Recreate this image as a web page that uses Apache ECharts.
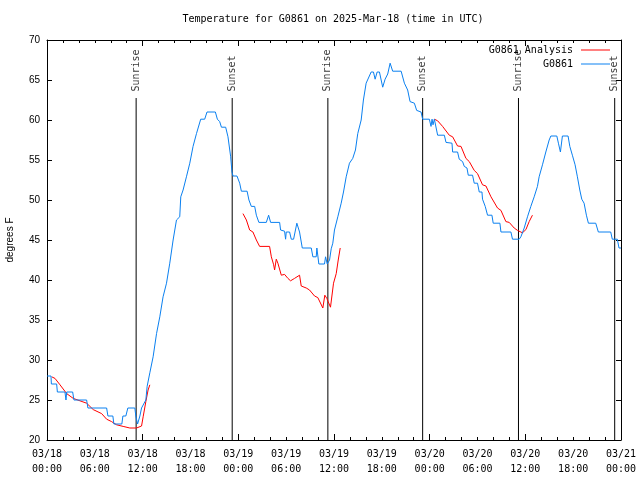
<!DOCTYPE html>
<html>
<head>
<meta charset="utf-8">
<script src="https://cdn.jsdelivr.net/npm/echarts@6/dist/echarts.min.js"></script>
<style>html,body{margin:0;padding:0;background:#fff}#c{width:640px;height:480px}</style>
</head>
<body>
<div id="c"></div>
<script>
// hours since 2025-03-18 00:00 UTC, temperature in F
const g0861 = [
[0,28],[0.5,28],[0.55,27],[1.21,27],[1.3,26],[2.25,26],[2.38,25],[2.47,26],[3.22,26],[3.38,25],[4.97,25],[5.13,24],[7.48,24],[7.64,23],[8.26,23],[8.39,22],[9.39,22],[9.52,23],[9.89,23],[10.14,24],[11.02,24],[11.14,23],[11.36,22],[11.65,23],[11.86,24],[12.4,25],[12.56,26.7],[12.9,28.4],[13.31,30.4],[13.74,33.3],[14.15,35.4],[14.56,37.9],[14.99,39.6],[15.4,42.1],[15.82,45],[16.24,47.5],[16.65,47.9],[16.78,50.4],[17.07,51.25],[17.49,52.9],[17.91,54.6],[18.32,56.7],[18.75,58.3],[19.28,60.1],[19.78,60.1],[20.07,61],[21.12,61],[21.37,60.1],[21.66,59.8],[21.88,59.1],[22.41,59.1],[22.7,57.9],[23.04,55.4],[23.2,53.5],[23.33,53],[23.83,53],[24.17,52.1],[24.38,51.1],[25.1,51.1],[25.33,50],[25.63,49.2],[26.05,49.2],[26.26,48.1],[26.58,47.2],[27.51,47.2],[27.8,48.1],[28.05,47.2],[29.18,47.2],[29.3,46.25],[29.8,46.1],[29.93,45.1],[30.01,46],[30.43,46],[30.64,45.1],[30.93,45.1],[31.34,47.1],[31.68,46],[32.02,44],[33.15,44],[33.35,42.9],[33.77,42.9],[33.85,44],[34.1,42],[34.81,42],[34.94,42.9],[35.15,42],[35.44,42.5],[35.65,43.9],[35.85,44.6],[36.06,46.25],[36.48,47.9],[36.9,49.6],[37.19,51],[37.53,52.9],[37.94,54.6],[38.35,55.2],[38.69,56.25],[38.98,58.3],[39.41,60],[39.69,62.5],[40.03,64.6],[40.66,66],[40.95,66],[41.16,65.1],[41.41,66],[41.7,66],[42.11,64.1],[42.41,65.1],[42.74,65.75],[43.04,67.1],[43.36,66.1],[44.42,66.1],[44.83,64.6],[45.24,63.75],[45.54,62.3],[46.08,62.1],[46.37,61.2],[46.92,61],[47.12,60.1],[47.96,60.1],[48.17,59.2],[48.3,60.1],[48.42,59.4],[48.59,60.1],[49.0,58.1],[49.84,58.1],[50.05,57.2],[50.8,57.1],[50.88,56],[51.5,56],[51.71,55.1],[52.13,54.8],[52.34,54.2],[52.68,54],[52.84,53.1],[53.38,53.1],[53.59,52.1],[54.0,52.1],[54.22,51],[54.56,51],[54.63,50.1],[54.97,49.2],[55.26,48.1],[55.81,48.1],[55.97,47.1],[56.81,47.1],[56.94,46],[58.19,46],[58.39,45.1],[59.23,45.1],[59.44,45.4],[59.86,46.5],[60.27,47.9],[60.69,49.2],[61.11,50.4],[61.52,51.7],[61.73,52.9],[62.15,54.4],[62.57,56],[62.99,57.5],[63.2,58],[63.95,58],[64.15,57.1],[64.4,56],[64.65,58],[65.36,58],[65.58,56.7],[65.9,55.6],[66.24,54.4],[66.53,52.9],[66.83,51.25],[67.08,50.1],[67.37,49.6],[67.66,48.1],[67.91,47.1],[68.83,47.1],[69.16,46],[70.71,46],[70.91,45.1],[71.54,45.1],[71.75,44],[72,44]
];
const analysisSeg1 = [[0.59,27.9],[1.0,27.7],[1.63,26.9],[2.47,25.8],[3.29,25.2],[4.13,24.9],[4.97,24.6],[5.8,23.8],[6.85,23.3],[7.48,22.6],[8.1,22.3],[8.73,21.9],[9.55,21.7],[10.39,21.5],[11.23,21.5],[11.86,21.75],[12.06,22.9],[12.4,24.8],[12.68,26.25],[12.9,26.9]];
const analysisSeg2 = [[24.58,48.3],[25.01,47.5],[25.42,46.25],[25.83,46],[26.26,45],[26.67,44.2],[27.92,44.2],[28.14,42.9],[28.43,41.9],[28.55,41.25],[28.76,42.6],[28.96,42.1],[29.39,40.6],[29.8,40.7],[30.22,40.2],[30.55,39.9],[31.05,40.2],[31.68,40.6],[31.89,39.25],[32.52,39],[32.93,38.75],[33.56,38],[33.97,37.8],[34.6,36.5],[34.85,38.1],[35.1,37.7],[35.27,37.3],[35.44,37.1],[35.56,36.6],[35.78,36.6],[35.94,39.6],[36.28,40.8],[36.53,42.5],[36.78,44]];
const analysisSeg3 = [[48.59,60.1],[49.0,59.9],[49.62,59.2],[50.46,58.1],[50.88,57.9],[51.5,56.75],[51.93,56.7],[52.55,55.2],[52.97,54.8],[53.59,53.7],[54.0,53.3],[54.63,51.9],[55.06,51.75],[55.69,50.4],[56.51,49],[56.94,48.7],[57.56,47.3],[57.98,47.2],[58.6,46.5],[59.02,46.2],[59.64,45.9],[60.07,46.3],[60.48,47.3],[60.89,48.1]];
const sunHours = [11.18, 23.23, 35.23, 47.12, 59.14, 71.21];
const sunNames = ['Sunrise', 'Sunset', 'Sunrise', 'Sunset', 'Sunrise', 'Sunset'];
const sunLineTop = 62.75;
const yMin = 20, yMax = 70, yStep = 5;
const xMin = 0, xMax = 72;

const mono = 'DejaVu Sans Mono';
const analysis = analysisSeg1.concat([[18, '-']], analysisSeg2, [[42, '-']], analysisSeg3);

function fmtX(v) {
  const day = 18 + Math.floor(v / 24);
  const h = v % 24;
  return '03/' + day + '\n' + (h < 10 ? '0' : '') + h + ':00';
}

const sunSeries = sunHours.map((h, i) => ({
  type: 'line', name: 'sun' + i, xAxisIndex: 0, yAxisIndex: 0,
  data: [[h, yMin], [h, sunLineTop]],
  symbol: 'none', showSymbol: false,
  lineStyle: {color: '#000', width: 1}, silent: true, animation: false, z: 1
}));
const sunLabels = {
  type: 'scatter', name: 'sunlabels', xAxisIndex: 0, yAxisIndex: 0,
  data: sunHours.map((h, i) => ({value: [h, sunLineTop], name: sunNames[i]})),
  symbol: 'rect', symbolSize: 1, itemStyle: {color: 'rgba(0,0,0,0)'}, silent: true,
  label: {show: true, formatter: p => p.name, rotate: 90, position: 'top', distance: 6, align: 'left', verticalAlign: 'middle',
    fontFamily: mono, fontSize: 10, color: '#000'},
  labelLayout: {hideOverlap: false}, z: 2
};

const chart = echarts.init(document.getElementById('c'), null, {renderer: 'canvas'});
chart.setOption({
  animation: false,
  backgroundColor: '#fff',
  title: {text: 'Temperature for G0861 on 2025-Mar-18 (time in UTC)', left: 333, textAlign: 'center', top: 14, padding: 0,
    textStyle: {fontFamily: mono, fontSize: 10, fontWeight: 'normal', color: '#000'}},
  grid: {left: 47, right: 19, top: 40, bottom: 40, containLabel: false, outerBoundsMode: 'none'},
  legend: [
    {data: ['G0861 Analysis'], right: 30, top: 45, orient: 'vertical', align: 'right', padding: 0, itemWidth: 29, itemHeight: 1, icon: 'rect',
      textStyle: {fontFamily: mono, fontSize: 10, color: '#000', padding: [0, 3, 0, 0]}},
    {data: ['G0861'], right: 30, top: 59, orient: 'vertical', align: 'right', padding: 0, itemWidth: 29, itemHeight: 1, icon: 'rect',
      textStyle: {fontFamily: mono, fontSize: 10, color: '#000', padding: [0, 3, 0, 0]}}
  ],
  xAxis: [
    {type: 'value', position: 'bottom', min: xMin, max: xMax, interval: 6, splitLine: {show: false},
      axisLine: {show: true, onZero: false, lineStyle: {color: '#000', width: 1}}, axisTick: {show: false},
      axisLabel: {formatter: fmtX, fontFamily: mono, fontSize: 10, color: '#000', lineHeight: 15, margin: 7, showMinLabel: true, showMaxLabel: true, hideOverlap: false}},
    {type: 'value', position: 'bottom', min: xMin, max: xMax, interval: 12, splitLine: {show: false},
      axisLine: {show: false, onZero: false}, axisLabel: {show: false},
      axisTick: {show: true, inside: true, length: 6, lineStyle: {color: '#000'}},
      minorTick: {show: true, splitNumber: 6, length: 3, lineStyle: {color: '#000'}}},
    {type: 'value', position: 'top', min: xMin, max: xMax, interval: 12, splitLine: {show: false},
      axisLine: {show: true, onZero: false, lineStyle: {color: '#000', width: 1}}, axisLabel: {show: false},
      axisTick: {show: true, inside: true, length: 6, lineStyle: {color: '#000'}},
      minorTick: {show: true, splitNumber: 6, length: 3, lineStyle: {color: '#000'}}}
  ],
  yAxis: [
    {type: 'value', position: 'left', min: yMin, max: yMax, interval: yStep, splitLine: {show: false},
      name: 'degrees F', nameLocation: 'middle', nameRotate: 90, nameGap: 32,
      nameTextStyle: {fontFamily: 'Liberation Sans', fontSize: 10, color: '#000'},
      axisLine: {show: true, onZero: false, lineStyle: {color: '#000', width: 1}},
      axisTick: {show: true, inside: true, length: 5, lineStyle: {color: '#000'}},
      axisLabel: {fontFamily: 'Liberation Sans', fontSize: 10, color: '#000', margin: 7}},
    {type: 'value', position: 'right', min: yMin, max: yMax, interval: yStep, splitLine: {show: false},
      axisLine: {show: true, onZero: false, lineStyle: {color: '#000', width: 1}},
      axisTick: {show: true, inside: true, length: 5, lineStyle: {color: '#000'}},
      axisLabel: {show: false}}
  ],
  series: sunSeries.concat([
    sunLabels,
    {type: 'line', name: 'G0861 Analysis', data: analysis, xAxisIndex: 0, yAxisIndex: 0, symbol: 'none', showSymbol: false,
      connectNulls: false, color: '#ff0000', lineStyle: {color: '#ff0000', width: 1}, z: 3},
    {type: 'line', name: 'G0861', data: g0861, xAxisIndex: 0, yAxisIndex: 0, symbol: 'none', showSymbol: false,
      color: '#0a80f0', lineStyle: {color: '#0a80f0', width: 1}, z: 4}
  ])
});
</script>
</body>
</html>
